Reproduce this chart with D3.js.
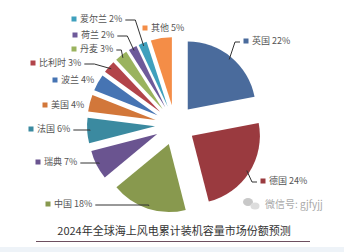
<!DOCTYPE html>
<html>
<head>
<meta charset="utf-8">
<script src="https://cdn.jsdelivr.net/npm/d3@7"></script>
<style>
  body { margin: 0; background: #fff; }
  svg { display: block; }
</style>
</head>
<body>
<div id="chart"></div>
<script>
// data
var countries = ["英国", "德国", "中国", "瑞典", "法国", "美国", "波兰", "比利时", "丹麦", "荷兰", "爱尔兰", "其他"];
var shares = [22, 24, 18, 7, 6, 4, 4, 3, 3, 2, 2, 5];
var colors = ["#4a6b9c", "#9a3a3f", "#88994e", "#6a5490", "#3b8aa0", "#d2773a",
              "#4674b3", "#b2444a", "#9ab35e", "#6e5a9a", "#3fa0bd", "#f48d47"];
var title = "2024年全球海上风电累计装机容量市场份额预测";

// label layout: marker position, side of leader ("r" = leader leaves from the right end of text,
// "l" = leaves from marker's left), null = no leader
var labelLayout = [
  { x: 246, y: 41, lead: "l" },
  { x: 263, y: 181, lead: "l" },
  { x: 48, y: 204, lead: "r" },
  { x: 38, y: 162, lead: "r" },
  { x: 31, y: 129, lead: "r" },
  { x: 45, y: 105, lead: null },
  { x: 55, y: 80, lead: null },
  { x: 33, y: 63, lead: "r" },
  { x: 74, y: 49, lead: "r" },
  { x: 75, y: 35, lead: "r" },
  { x: 74, y: 19, lead: "r" },
  { x: 145, y: 28, lead: null }
];

var width = 344, height = 252;
var cx = 175, cy = 125, radius = 68, explode = 20;

var svg = d3.select("#chart").append("svg")
  .attr("width", width)
  .attr("height", height);

// bottom strip
svg.append("rect")
  .attr("x", 0).attr("y", 247)
  .attr("width", width).attr("height", height - 247)
  .attr("fill", "#eef3f8");

var data = countries.map(function (c, i) { return { name: c, value: shares[i], color: colors[i] }; });

var pie = d3.pie()
  .sort(null)
  .value(function (d) { return d.value; });

var arc = d3.arc().innerRadius(0).outerRadius(radius);

var arcs = pie(data);

function dir(a) { return [Math.sin(a), -Math.cos(a)]; }

var g = svg.append("g").attr("transform", "translate(" + cx + "," + cy + ")");

g.selectAll("path.slice")
  .data(arcs)
  .enter()
  .append("path")
  .attr("class", "slice")
  .attr("d", arc)
  .attr("fill", function (d) { return d.data.color; })
  .attr("transform", function (d) {
    var v = dir((d.startAngle + d.endAngle) / 2);
    return "translate(" + (v[0] * explode) + "," + (v[1] * explode) + ")";
  });

// labels
var labels = svg.append("g")
  .style("font-family", "'Noto Sans CJK SC', 'Noto Sans', sans-serif")
  .style("font-size", "9px");

arcs.forEach(function (d, i) {
  var L = labelLayout[i];
  labels.append("rect")
    .attr("x", L.x - 2.5).attr("y", L.y - 2.5)
    .attr("width", 5).attr("height", 5)
    .attr("fill", d.data.color);
  var t = labels.append("text")
    .attr("x", L.x + 6)
    .attr("y", L.y + 3.2)
    .attr("fill", "#555")
    .text(d.data.name + " " + d.data.value + "%");

  if (L.lead) {
    var mid = (d.startAngle + d.endAngle) / 2;
    var v = dir(mid);
    var r = radius + explode - 3;
    var px = cx + v[0] * r, py = cy + v[1] * r;
    var sx, ex;
    if (L.lead === "r") {
      var w = t.node().getComputedTextLength();
      sx = L.x + 6 + w + 3;
      ex = sx + Math.max(5, Math.min(px - sx - 3, 10));
      if (Math.abs(py - L.y) < 4) ex = px;
    } else {
      sx = L.x - 6;
      ex = sx - 5;
    }
    labels.append("path")
      .attr("d", d3.line()([[sx, L.y + 1], [ex, L.y + 1], [px, py]]))
      .attr("fill", "none")
      .attr("stroke", "#333")
      .attr("stroke-width", 1);
  }
});

// watermark
var wm = svg.append("g").attr("fill", "#c8c8c8");
wm.append("ellipse").attr("cx", 248).attr("cy", 202).attr("rx", 5).attr("ry", 4);
wm.append("ellipse").attr("cx", 255).attr("cy", 206).attr("rx", 4.5).attr("ry", 3.5).attr("fill", "#ddd");
svg.append("text")
  .attr("x", 265).attr("y", 208)
  .attr("fill", "#aaa")
  .style("font-family", "'Noto Sans CJK SC', sans-serif")
  .style("font-size", "10px")
  .text("微信号: gjfyjj");

// title
svg.append("text")
  .attr("x", 174).attr("y", 235)
  .attr("text-anchor", "middle")
  .attr("fill", "#333")
  .style("font-family", "'Noto Sans CJK SC', sans-serif")
  .style("font-size", "11px")
  .text(title);

svg.append("line")
  .attr("x1", 36).attr("x2", 310)
  .attr("y1", 241.5).attr("y2", 241.5)
  .attr("stroke", "#6d5060")
  .attr("stroke-width", 1);
</script>
</body>
</html>
